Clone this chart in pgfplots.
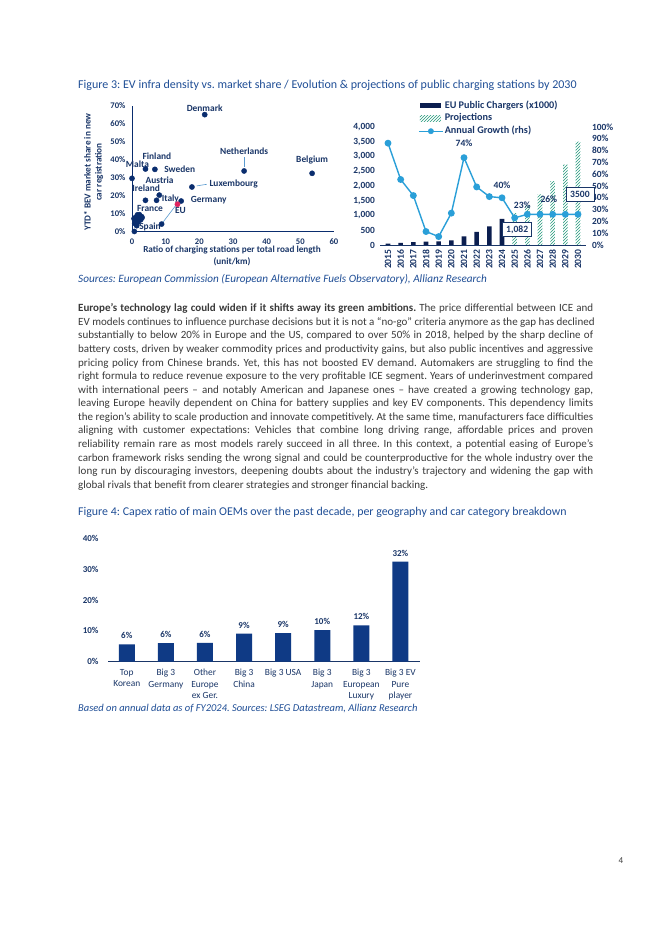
\documentclass[border=0pt]{standalone}
\usepackage{fontspec}
\setmainfont{Carlito}
\usepackage{graphicx}
\usepackage{pgfplots}
\pgfplotsset{compat=1.18}
\usetikzlibrary{patterns}
\definecolor{barnavy}{HTML}{0B1E4F}
\definecolor{dotnavy}{HTML}{0A2D6E}
\definecolor{lineblue}{HTML}{2A9FD8}
\definecolor{hatchgreen}{HTML}{23997A}
\definecolor{fourblue}{HTML}{0F3A85}
\definecolor{capblue}{HTML}{1F4E96}
\definecolor{ticknavy}{HTML}{1A3668}
\definecolor{eured}{HTML}{E0245E}
\definecolor{bodytext}{HTML}{3A3A3A}
\definecolor{leader}{HTML}{5A9BD0}
\newcommand\jl[1]{\setbox0=\hbox{#1}\ifdim\wd0>515pt\hbox{\resizebox{515pt}{\ht0}{\box0}}\else\hbox to 515pt{#1}\fi}
\begin{document}
\frenchspacing
\begin{tikzpicture}[x=1pt,y=1pt]
\path[fill=white] (0,0) rectangle (662,936);
% ---------- titles and text ----------
\node[anchor=base west, inner sep=0, text=capblue, font=\fontsize{12}{14}\selectfont] at (78,847) {Figure 3: EV infra density vs. market share / Evolution \& projections of public charging stations by 2030};
\node[anchor=base west, inner sep=0, text=capblue, font=\fontsize{11.2}{13}\selectfont\itshape] at (78,653) {Sources: European Commission (European Alternative Fuels Observatory), Allianz Research};
\node[anchor=base west, inner sep=0, text=bodytext, font=\fontsize{11}{13.58}\selectfont] at (78,624.3) {\vtop{\hsize=515pt \baselineskip=13.58pt
\jl{\textbf{Europe’s technology lag could widen if it shifts away its green ambitions.} The price differential between ICE and}
\jl{EV models continues to influence purchase decisions but it is not a “no-go” criteria anymore as the gap has declined}
\jl{substantially to below 20\% in Europe and the US, compared to over 50\% in 2018, helped by the sharp decline of}
\jl{battery costs, driven by weaker commodity prices and productivity gains, but also public incentives and aggressive}
\jl{pricing policy from Chinese brands. Yet, this has not boosted EV demand. Automakers are struggling to find the}
\jl{right formula to reduce revenue exposure to the very profitable ICE segment. Years of underinvestment compared}
\jl{with international peers – and notably American and Japanese ones – have created a growing technology gap,}
\jl{leaving Europe heavily dependent on China for battery supplies and key EV components. This dependency limits}
\jl{the region’s ability to scale production and innovate competitively. At the same time, manufacturers face difficulties}
\jl{aligning with customer expectations: Vehicles that combine long driving range, affordable prices and proven}
\jl{reliability remain rare as most models rarely succeed in all three. In this context, a potential easing of Europe’s}
\jl{carbon framework risks sending the wrong signal and could be counterproductive for the whole industry over the}
\jl{long run by discouraging investors, deepening doubts about the industry’s trajectory and widening the gap with}
\hbox{global rivals that benefit from clearer strategies and stronger financial backing.}}};
\node[anchor=base west, inner sep=0, text=capblue, font=\fontsize{11.9}{14}\selectfont] at (78,420) {Figure 4: Capex ratio of main OEMs over the past decade, per geography and car category breakdown};
\node[anchor=base west, inner sep=0, text=capblue, font=\fontsize{10.5}{12}\selectfont\itshape] at (78,224.5) {Based on annual data as of FY2024. Sources: LSEG Datastream, Allianz Research};
\node[anchor=base, inner sep=0, text=bodytext, font=\fontsize{9}{11}\selectfont] at (621,72.5) {4};
% ---------- scatter ----------
\node[anchor=north, inner sep=0, align=center, text=ticknavy, font=\fontsize{9.2}{12}\selectfont\bfseries] at (232,690) {Ratio of charging stations per total road length\\(unit/km)};
\node[rotate=90, inner sep=0, align=center, text=ticknavy, font=\fontsize{9.2}{11}\selectfont\bfseries] at (93.5,764) {YTD* BEV market share in new\\car registration};
\begin{axis}[at={(132pt,704pt)}, anchor=south west, scale only axis,
  width=202pt, height=126pt, xmin=0, xmax=60, ymin=0, ymax=70,
  axis x line*=bottom, axis y line*=left,
  axis line style={-, draw=dotnavy, line width=1pt},
  major tick length=0pt, clip=false,
  xtick={0,10,20,30,40,50,60}, xticklabels={0,10,20,30,40,50,60},
  ytick={0,10,20,30,40,50,60,70}, yticklabels={0\%,10\%,20\%,30\%,40\%,50\%,60\%,70\%},
  ticklabel style={font=\fontsize{8.6}{10}\selectfont\bfseries, text=ticknavy},
  xticklabel style={yshift=-3pt}, yticklabel style={xshift=-3pt}]
\draw[leader, line width=0.6pt] (axis cs:33.3,41.5) -- (axis cs:33.3,36);
\draw[leader, line width=0.6pt] (axis cs:19.2,25.6) -- (axis cs:22.2,26.5);
\draw[leader, line width=0.6pt] (axis cs:9.1,5.2) -- (axis cs:13.1,15);
\addplot[only marks, mark=*, mark size=2.6pt, color=dotnavy] coordinates {
(21.6,65.2)(33.3,33.9)(53.5,32.6)(0,29.8)(4,35)(6.8,34.8)(8.1,20.5)(4,17.6)(7.3,17.6)(14.6,17.2)(17.8,25)(8.8,4.4)(0.7,0.3)
(1,8)(1.6,9.5)(2.2,9.6)(2.8,8.6)(2.2,7.2)(1.2,6.5)(0.8,4.8)(1.8,5.5)(1.4,3.5)(0.6,7.4)(2.6,6.8)(3,8)};
\addplot[only marks, mark=*, mark size=2.6pt, color=eured] coordinates {(13.5,15.4)};
\begin{scope}[every node/.style={text=ticknavy, font=\fontsize{9.4}{10}\selectfont\bfseries, inner sep=0}]
\node at (axis cs:21.6,68.6) {Denmark};
\node at (axis cs:33.3,44.6) {Netherlands};
\node at (axis cs:53.5,40.2) {Belgium};
\node at (axis cs:1.6,37.6) {Malta};
\node at (axis cs:7.4,42.2) {Finland};
\node at (axis cs:14.2,35.1) {Sweden};
\node at (axis cs:8.2,29) {Austria};
\node at (axis cs:4.2,24.1) {Ireland};
\node at (axis cs:11.4,18.5) {Italy};
\node at (axis cs:22.8,17.8) {Germany};
\node at (axis cs:30.2,26.6) {Luxembourg};
\node at (axis cs:5.35,12.8) {France};
\node at (axis cs:14.4,12.1) {EU};
\node at (axis cs:5.35,2.8) {Spain};
\end{scope}
\end{axis}
% ---------- chargers bars ----------
\begin{axis}[at={(380.4pt,691pt)}, anchor=south west, scale only axis,
  width=205.2pt, height=118pt, xmin=2014.4, xmax=2030.6, ymin=0, ymax=4000,
  axis x line*=bottom, axis y line*=left,
  y axis line style={draw=none}, x axis line style={-, draw=ticknavy, line width=0.6pt},
  major tick length=0pt, clip=false,
  xtick={2015,2016,2017,2018,2019,2020,2021,2022,2023,2024,2025,2026,2027,2028,2029,2030},
  xticklabels={2015,2016,2017,2018,2019,2020,2021,2022,2023,2024,2025,2026,2027,2028,2029,2030},
  xticklabel style={rotate=90, anchor=east, font=\fontsize{9.6}{10}\selectfont\bfseries, text=ticknavy, xshift=-1pt},
  ytick={0,500,1000,1500,2000,2500,3000,3500,4000},
  yticklabels={0,500,{1,000},{1,500},{2,000},{2,500},{3,000},{3,500},{4,000}},
  yticklabel style={font=\fontsize{9.4}{10}\selectfont\bfseries, text=ticknavy, xshift=-2pt},
  legend style={draw=none, fill=none, inner sep=0pt, at={(0.1832,1.235)}, anchor=north west,
    font=\fontsize{10.2}{12}\selectfont\bfseries, text=ticknavy, row sep=0pt,
    nodes={inner sep=1.2pt, text height=7.5pt, text depth=2.8pt},
    /tikz/every even column/.append style={column sep=1pt}},
  legend cell align=left]
\addplot[ybar, bar width=4.6pt, bar shift=0pt, fill=barnavy, draw=none,
  legend image code/.code={\fill[barnavy] (0pt,-2.6pt) rectangle (21pt,2.6pt);}]
  coordinates {(2015,45)(2016,68)(2017,100)(2018,113)(2019,124)(2020,158)(2021,294)(2022,441)(2023,633)(2024,882)};
\addlegendentry{EU Public Chargers (x1000)}
\addplot[ybar, bar width=4.6pt, bar shift=0pt, draw=none, pattern=north east lines, pattern color=hatchgreen,
  legend image code/.code={\path[pattern=north east lines, pattern color=hatchgreen] (0pt,-3pt) rectangle (21pt,3pt);}]
  coordinates {(2025,1082)(2026,1363)(2027,1718)(2028,2164)(2029,2727)(2030,3500)};
\addlegendentry{Projections}
\addlegendimage{legend image code/.code={\draw[lineblue, line width=1.4pt] (-1pt,0pt) -- (23pt,0pt); \fill[lineblue] (11pt,0pt) circle (2.7pt);}}
\addlegendentry{Annual Growth (rhs)}
\end{axis}
% ---------- growth line ----------
\begin{axis}[at={(380.4pt,691pt)}, anchor=south west, scale only axis,
  width=205.2pt, height=118pt, xmin=2014.4, xmax=2030.6, ymin=0, ymax=100,
  axis x line=none, axis y line*=right, y axis line style={draw=none},
  xtick=\empty, major tick length=0pt, clip=false,
  ytick={0,10,20,30,40,50,60,70,80,90,100},
  yticklabels={0\%,10\%,20\%,30\%,40\%,50\%,60\%,70\%,80\%,90\%,100\%},
  yticklabel style={anchor=west, font=\fontsize{9.4}{10}\selectfont\bfseries, text=ticknavy, xshift=3pt}]
\addplot[lineblue, line width=1.4pt, mark=*, mark size=2.7pt] coordinates {
(2015,86.3)(2016,55.5)(2017,41.9)(2018,11.4)(2019,7.1)(2020,27)(2021,74)(2022,49.2)(2023,41)(2024,40)
(2025,23)(2026,26)(2027,26)(2028,26)(2029,26)(2030,26)};
\begin{scope}[every node/.style={text=ticknavy, font=\fontsize{9.6}{10}\selectfont\bfseries, inner sep=0}]
\node at (axis cs:2021,86.6) {74\%};
\node at (axis cs:2024,50.7) {40\%};
\node at (axis cs:2025.6,33.6) {23\%};
\node at (axis cs:2027.7,38.5) {26\%};
\node[draw=ticknavy, fill=white, line width=0.7pt, minimum width=29pt, minimum height=14pt] at (axis cs:2025.2,13.1) {1,082};
\node[draw=ticknavy, fill=white, line width=0.7pt, minimum width=28pt, minimum height=14pt] at (axis cs:2030.15,43.2) {3500};
\end{scope}
\end{axis}
% ---------- figure 4 ----------
\begin{axis}[at={(108pt,274.3pt)}, anchor=south west, scale only axis,
  width=311.6pt, height=123.4pt, xmin=-0.48, xmax=7.49, ymin=0, ymax=40,
  axis x line*=bottom, axis y line*=left,
  y axis line style={draw=none}, x axis line style={-, draw=ticknavy, line width=0.8pt},
  major tick length=0pt, clip=false,
  xtick={0,1,2,3,4,5,6,7},
  xticklabels={{Top\\Korean},{Big 3\\Germany},{Other\\Europe\\ex Ger.},{Big 3\\China},{Big 3 USA},{Big 3\\Japan},{Big 3\\European\\Luxury},{Big 3 EV\\Pure\\player}},
  xticklabel style={align=center, anchor=north, font=\fontsize{9.4}{11.5}\selectfont, text=ticknavy, yshift=-4pt},
  ytick={0,10,20,30,40}, yticklabels={0\%,10\%,20\%,30\%,40\%},
  yticklabel style={font=\fontsize{9}{10}\selectfont\bfseries, text=ticknavy, xshift=-6pt}]
\addplot[ybar, bar width=16pt, fill=fourblue, draw=none, point meta=explicit symbolic,
  nodes near coords, nodes near coords style={font=\fontsize{9}{10}\selectfont\bfseries, text=ticknavy, yshift=2pt}]
  coordinates {(0,5.6) [6\%] (1,6.0) [6\%] (2,6.1) [6\%] (3,9.1) [9\%] (4,9.3) [9\%] (5,10.2) [10\%] (6,11.8) [12\%] (7,32.4) [32\%]};
\end{axis}
\end{tikzpicture}
\end{document}
